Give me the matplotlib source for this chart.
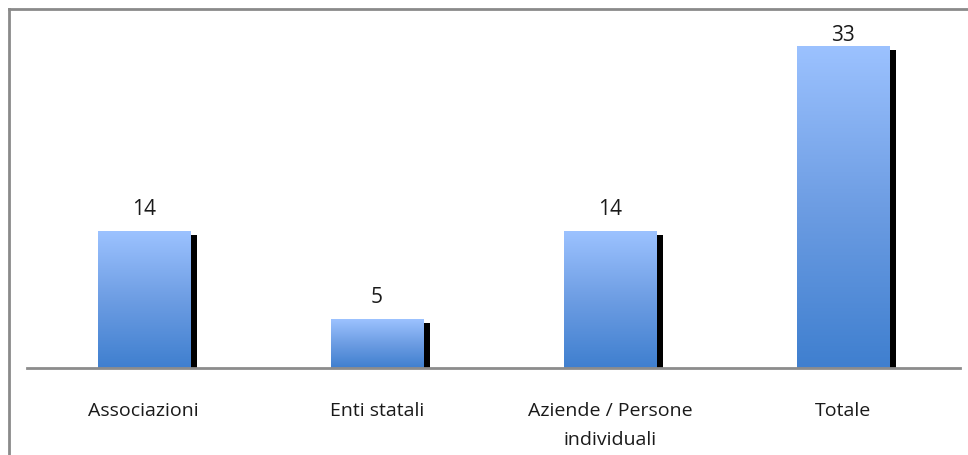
import matplotlib
matplotlib.use("Agg")
import matplotlib.pyplot as plt
import numpy as np
from matplotlib.colors import LinearSegmentedColormap
from matplotlib.lines import Line2D

categories = ["Associazioni", "Enti statali", "Aziende / Persone\nindividuali", "Totale"]
values = [14, 5, 14, 33]

W, H = 968, 456
fig = plt.figure(figsize=(W / 100, H / 100), dpi=100)
fig.patch.set_facecolor("white")

ax_left, ax_right, ax_top, ax_bottom = 27, 960, 27, 369
ax = fig.add_axes([ax_left / W, 1 - ax_bottom / H, (ax_right - ax_left) / W, (ax_bottom - ax_top) / H])
ax.set_xlim(-0.5, len(categories) - 0.5)
ax.set_ylim(0, 35)
for s in ["left", "right", "top"]:
    ax.spines[s].set_visible(False)
ax.spines["bottom"].set_color("#8c8c8c")
ax.spines["bottom"].set_linewidth(2)
ax.set_yticks([])

font = ["Open Sans", "DejaVu Sans"]
x = np.arange(len(categories))
ax.set_xticks(x)
ax.set_xticklabels(categories, fontsize=14, family=font, color="#1a1a1a", linespacing=1.75, va="top")
ax.tick_params(axis="x", length=0, pad=24)

bw = 0.395
px_x = (len(categories)) / (ax_right - ax_left)
px_y = 35 / (ax_bottom - ax_top)
dx = 7 * px_x
dy = 4 * px_y

cmap = LinearSegmentedColormap.from_list("g", ["#3f7fcf", "#6d9de3", "#9cc2ff"])
grad = np.linspace(0, 1, 256).reshape(-1, 1)

# shadows
ax.bar(x + dx, np.array(values) - dy, width=bw, color="black", zorder=1)
bars = ax.bar(x, values, width=bw, color="none", zorder=2)
label_cap = (ax_bottom - 41) * px_y
for b, v in zip(bars, values):
    x0 = b.get_x()
    im = ax.imshow(grad, extent=(x0, x0 + bw, 0, v), origin="lower", cmap=cmap,
                   aspect="auto", zorder=2, interpolation="bilinear")
    im.set_clip_path(b)
    ly = min(v + 17 * px_y, label_cap)
    ax.text(b.get_x() + bw / 2, ly, str(v), ha="center", va="baseline",
            fontsize=15, family=font, color="#1a1a1a")
ax.set_xlim(-0.5, len(categories) - 0.5)
ax.set_ylim(0, 35)

# outer border (left and top)
fig.add_artist(Line2D([8.5 / W, 8.5 / W], [0, 1 - 9.5 / H], transform=fig.transFigure, color="#8a8a8a", lw=2))
fig.add_artist(Line2D([8.5 / W, 1], [1 - 9.5 / H, 1 - 9.5 / H], transform=fig.transFigure, color="#8a8a8a", lw=2))

fig.savefig("out.png", dpi=100)
